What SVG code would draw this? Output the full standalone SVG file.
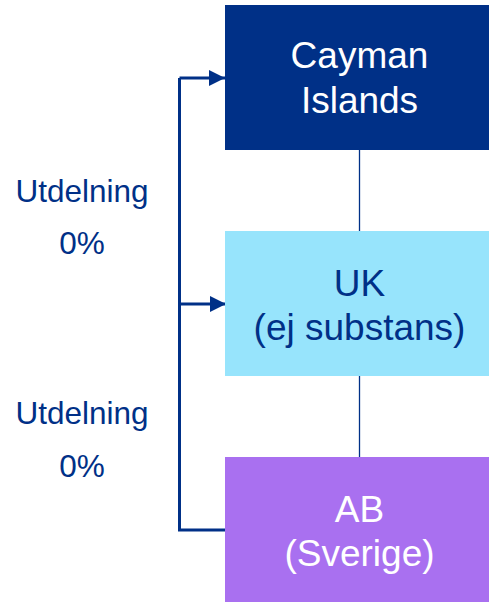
<svg xmlns="http://www.w3.org/2000/svg" width="489" height="602" viewBox="0 0 489 602">
  <style>
    .t { font-family: "Liberation Sans", Arial, sans-serif; text-anchor: middle; }
    .box { font-size: 37px; }
    .lbl { font-size: 31.5px; fill: #003087; }
    .con { stroke: #003087; fill: none; }
  </style>
  <defs>
    <marker id="arr" markerUnits="userSpaceOnUse" markerWidth="16" markerHeight="16" refX="16" refY="8" orient="auto">
      <path d="M0,0 L16,8 L0,16 Z" fill="#003087"/>
    </marker>
  </defs>
  <rect width="489" height="602" fill="#ffffff"/>
  <g id="connectors">
    <line class="con" x1="359.5" y1="150" x2="359.5" y2="231" stroke-width="1.3"/>
    <line class="con" x1="359.5" y1="376" x2="359.5" y2="457" stroke-width="1.3"/>
    <path class="con" d="M227,530 H179.5 V78" stroke-width="3"/>
    <line class="con" x1="179.5" y1="78" x2="225" y2="78" stroke-width="3" marker-end="url(#arr)"/>
    <line class="con" x1="179.5" y1="304" x2="226" y2="304" stroke-width="3" marker-end="url(#arr)"/>
  </g>
  <g id="cayman">
    <rect x="225" y="5" width="270" height="145" fill="#003087"/>
    <text class="t box" x="359.5" y="68" fill="#ffffff">Cayman</text>
    <text class="t box" x="359.5" y="113" fill="#ffffff">Islands</text>
  </g>
  <g id="uk">
    <rect x="225" y="231" width="270" height="145" fill="#97E4FC"/>
    <text class="t box" x="359.5" y="296" fill="#003087">UK</text>
    <text class="t box" x="359.5" y="340" fill="#003087">(ej substans)</text>
  </g>
  <g id="ab">
    <rect x="225" y="457" width="270" height="145" fill="#A970F0"/>
    <text class="t box" x="359.5" y="522" fill="#ffffff">AB</text>
    <text class="t box" x="359.5" y="566" fill="#ffffff">(Sverige)</text>
  </g>
  <g id="label1">
    <text class="t lbl" x="82" y="202">Utdelning</text>
    <text class="t lbl" x="82" y="254">0%</text>
  </g>
  <g id="label2">
    <text class="t lbl" x="82" y="424">Utdelning</text>
    <text class="t lbl" x="82" y="477">0%</text>
  </g>
</svg>
